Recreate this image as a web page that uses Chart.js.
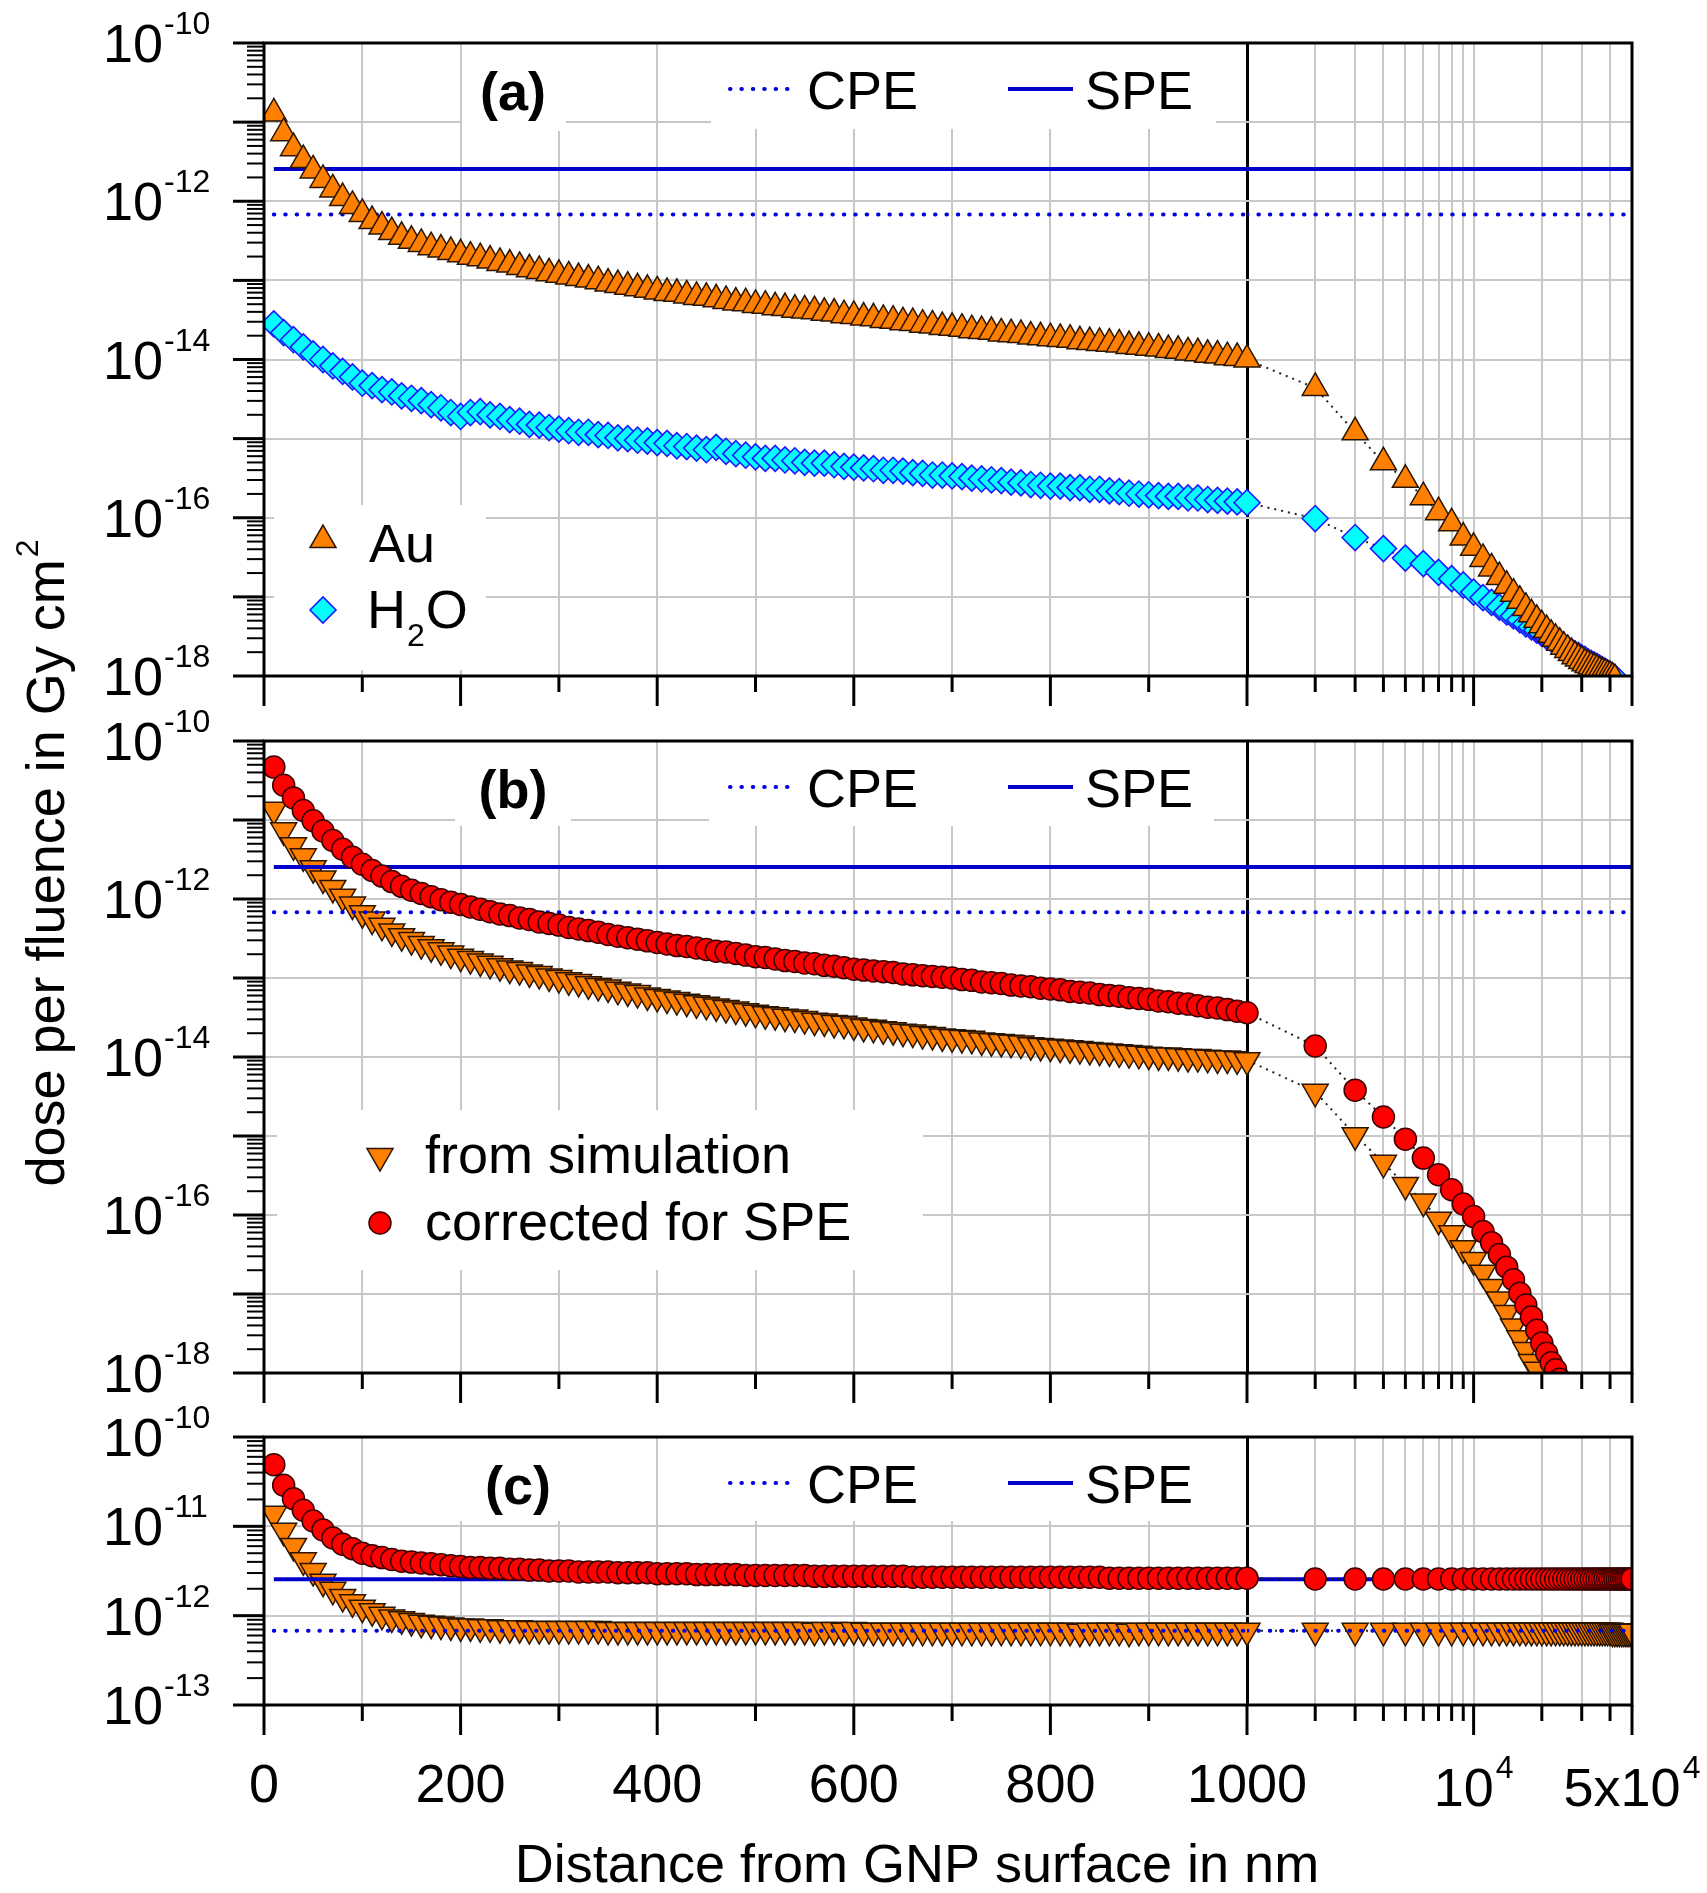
<!DOCTYPE html>
<html>
<head>
<meta charset="utf-8">
<title>Dose per fluence vs distance from GNP surface</title>
<script src="https://cdn.jsdelivr.net/npm/chart.js@4.4.1/dist/chart.umd.min.js"></script>
<style>
  html, body { margin: 0; padding: 0; background: #fff; }
  #page { position: relative; width: 1707px; height: 1893px; overflow: hidden; background: #fff; }
  canvas { position: absolute; left: 0; }
</style>
</head>
<body>
<div id="page">
  <canvas id="chartA" width="1707" height="730" style="top:0px;width:1707px;height:730px"></canvas>
  <canvas id="chartB" width="1707" height="930" style="top:500px;width:1707px;height:930px"></canvas>
  <canvas id="chartC" width="1707" height="503" style="top:1390px;width:1707px;height:503px"></canvas>
</div>
<script>
'use strict';

// distances in nm: fine sampling up to 1000 nm, then 1000 nm steps on the log part
const distNear = [10,20,30,40,50,60,70,80,90,100,110,120,130,140,150,160,170,180,190,200,
  210,220,230,240,250,260,270,280,290,300,310,320,330,340,350,360,370,380,390,400,
  410,420,430,440,450,460,470,480,490,500,510,520,530,540,550,560,570,580,590,600,
  610,620,630,640,650,660,670,680,690,700,710,720,730,740,750,760,770,780,790,800,
  810,820,830,840,850,860,870,880,890,900,910,920,930,940,950,960,970,980,990,1000];
const distFar = [1000,2000,3000,4000,5000,6000,7000,8000,9000,10000,11000,12000,13000,14000,15000,
  16000,17000,18000,19000,20000,21000,22000,23000,24000,25000,26000,27000,28000,29000,30000,
  31000,32000,33000,34000,35000,36000,37000,38000,39000,40000,41000,42000,43000,44000,45000,
  46000,47000,48000,49000,50000];

// all series: log10 of dose per fluence in Gy cm^2
// (a) Au
const aAuNear = [-10.89,-11.14,-11.33,-11.48,-11.61,-11.73,-11.85,-11.96,-12.06,-12.16,
  -12.25,-12.32,-12.39,-12.45,-12.50,-12.54,-12.58,-12.61,-12.64,-12.67,
  -12.70,-12.72,-12.75,-12.78,-12.80,-12.83,-12.86,-12.88,-12.91,-12.93,
  -12.95,-12.97,-12.99,-13.01,-13.04,-13.06,-13.08,-13.10,-13.12,-13.14,
  -13.16,-13.17,-13.19,-13.21,-13.22,-13.24,-13.26,-13.28,-13.29,-13.31,
  -13.32,-13.34,-13.35,-13.37,-13.38,-13.39,-13.41,-13.42,-13.44,-13.45,
  -13.47,-13.48,-13.50,-13.51,-13.53,-13.54,-13.56,-13.57,-13.59,-13.60,
  -13.61,-13.63,-13.64,-13.65,-13.67,-13.68,-13.69,-13.71,-13.72,-13.73,
  -13.74,-13.75,-13.77,-13.78,-13.79,-13.80,-13.81,-13.83,-13.84,-13.85,
  -13.86,-13.88,-13.89,-13.91,-13.92,-13.94,-13.95,-13.97,-13.98,-14.00];
const aAuFar = [-14.00,-14.36,-14.92,-15.30,-15.52,-15.74,-15.93,-16.07,-16.25,-16.38,
  -16.52,-16.64,-16.75,-16.86,-16.96,-17.05,-17.14,-17.22,-17.29,-17.36,
  -17.42,-17.48,-17.53,-17.58,-17.63,-17.67,-17.71,-17.75,-17.78,-17.81,
  -17.84,-17.86,-17.88,-17.90,-17.92,-17.94,-17.96,-17.97,-17.99,-18.00,
  -18.02,-18.04];
// (a) H2O
const aH2oNear = [-13.55,-13.66,-13.75,-13.84,-13.93,-14.00,-14.08,-14.15,-14.22,-14.30,
  -14.33,-14.38,-14.41,-14.46,-14.49,-14.52,-14.57,-14.61,-14.67,-14.72,
  -14.67,-14.66,-14.70,-14.72,-14.76,-14.78,-14.82,-14.83,-14.86,-14.88,
  -14.90,-14.92,-14.92,-14.95,-14.96,-14.99,-15.00,-15.02,-15.03,-15.05,
  -15.06,-15.09,-15.10,-15.12,-15.14,-15.11,-15.16,-15.19,-15.21,-15.23,
  -15.25,-15.25,-15.27,-15.28,-15.30,-15.31,-15.31,-15.33,-15.35,-15.36,
  -15.37,-15.38,-15.40,-15.40,-15.41,-15.43,-15.44,-15.46,-15.46,-15.47,
  -15.48,-15.50,-15.51,-15.52,-15.53,-15.55,-15.56,-15.58,-15.59,-15.60,
  -15.60,-15.62,-15.62,-15.64,-15.64,-15.66,-15.67,-15.69,-15.70,-15.71,
  -15.72,-15.73,-15.73,-15.75,-15.75,-15.77,-15.78,-15.79,-15.80,-15.81];
const aH2oFar = [-15.81,-16.01,-16.25,-16.39,-16.51,-16.58,-16.69,-16.77,-16.85,-16.94,
  -17.01,-17.07,-17.13,-17.19,-17.24,-17.29,-17.34,-17.38,-17.42,-17.46,
  -17.50,-17.53,-17.57,-17.60,-17.63,-17.66,-17.69,-17.72,-17.74,-17.77,
  -17.79,-17.82,-17.84,-17.86,-17.88,-17.90,-17.92,-17.94,-17.96,-17.98,
  -18.00,-18.02];
// (b) from simulation
const bSimNear = [-10.87,-11.13,-11.32,-11.46,-11.61,-11.74,-11.86,-11.97,-12.07,-12.18,
  -12.26,-12.34,-12.41,-12.47,-12.52,-12.57,-12.61,-12.65,-12.69,-12.73,
  -12.76,-12.79,-12.82,-12.85,-12.88,-12.90,-12.93,-12.95,-12.98,-13.00,
  -13.03,-13.05,-13.08,-13.10,-13.12,-13.15,-13.17,-13.19,-13.22,-13.24,
  -13.26,-13.28,-13.30,-13.32,-13.34,-13.36,-13.38,-13.40,-13.42,-13.44,
  -13.46,-13.47,-13.49,-13.50,-13.52,-13.54,-13.55,-13.57,-13.58,-13.60,
  -13.62,-13.63,-13.65,-13.66,-13.68,-13.69,-13.71,-13.72,-13.74,-13.75,
  -13.76,-13.77,-13.79,-13.80,-13.81,-13.82,-13.83,-13.85,-13.86,-13.87,
  -13.88,-13.89,-13.90,-13.91,-13.92,-13.93,-13.94,-13.95,-13.96,-13.97,
  -13.98,-13.98,-13.99,-14.00,-14.00,-14.01,-14.02,-14.02,-14.03,-14.04];
const bSimFar = [-14.04,-14.44,-14.99,-15.34,-15.62,-15.83,-16.06,-16.23,-16.42,-16.57,
  -16.73,-16.91,-17.07,-17.24,-17.41,-17.56,-17.71,-17.86,-17.96,-18.10];
// (b) corrected for SPE
const bCorNear = [-10.33,-10.56,-10.72,-10.88,-11.01,-11.14,-11.26,-11.37,-11.47,-11.56,
  -11.64,-11.71,-11.78,-11.84,-11.89,-11.93,-11.97,-12.01,-12.04,-12.07,
  -12.10,-12.13,-12.16,-12.19,-12.21,-12.24,-12.26,-12.29,-12.31,-12.33,
  -12.36,-12.38,-12.40,-12.42,-12.45,-12.47,-12.49,-12.51,-12.53,-12.55,
  -12.57,-12.59,-12.60,-12.62,-12.64,-12.66,-12.67,-12.69,-12.71,-12.73,
  -12.74,-12.76,-12.78,-12.79,-12.81,-12.82,-12.84,-12.85,-12.87,-12.89,
  -12.90,-12.91,-12.92,-12.93,-12.95,-12.96,-12.97,-12.98,-12.99,-13.00,
  -13.02,-13.03,-13.05,-13.06,-13.07,-13.09,-13.10,-13.11,-13.13,-13.14,
  -13.15,-13.17,-13.18,-13.19,-13.21,-13.22,-13.23,-13.25,-13.26,-13.27,
  -13.29,-13.30,-13.32,-13.33,-13.35,-13.37,-13.38,-13.40,-13.42,-13.44];
const bCorFar = [-13.44,-13.86,-14.42,-14.76,-15.04,-15.28,-15.49,-15.68,-15.86,-16.02,
  -16.21,-16.35,-16.50,-16.66,-16.82,-16.99,-17.14,-17.29,-17.46,-17.62,
  -17.75,-17.87,-17.96,-18.08];
// (c) from simulation
const cSimNear = [-10.86,-11.05,-11.22,-11.38,-11.50,-11.62,-11.71,-11.79,-11.85,-11.91,
  -11.95,-11.99,-12.02,-12.04,-12.06,-12.08,-12.09,-12.10,-12.11,-12.12,
  -12.12,-12.13,-12.13,-12.14,-12.14,-12.14,-12.15,-12.15,-12.15,-12.15,
  -12.15,-12.15,-12.15,-12.15,-12.16,-12.16,-12.16,-12.16,-12.16,-12.16,
  -12.16,-12.16,-12.16,-12.16,-12.16,-12.16,-12.16,-12.16,-12.16,-12.16,
  -12.16,-12.16,-12.16,-12.16,-12.16,-12.17,-12.16,-12.16,-12.17,-12.16,
  -12.17,-12.17,-12.17,-12.17,-12.17,-12.17,-12.17,-12.17,-12.17,-12.17,
  -12.17,-12.17,-12.17,-12.17,-12.17,-12.17,-12.17,-12.17,-12.17,-12.17,
  -12.17,-12.17,-12.18,-12.17,-12.17,-12.17,-12.17,-12.18,-12.17,-12.17,
  -12.17,-12.17,-12.17,-12.17,-12.17,-12.17,-12.17,-12.17,-12.17,-12.17];
const cSimFar = [-12.17,-12.17,-12.17,-12.17,-12.17,-12.17,-12.17,-12.17,-12.17,-12.17,
  -12.17,-12.17,-12.17,-12.17,-12.17,-12.17,-12.17,-12.17,-12.17,-12.17,
  -12.17,-12.17,-12.17,-12.17,-12.17,-12.17,-12.17,-12.17,-12.17,-12.17,
  -12.17,-12.17,-12.17,-12.17,-12.17,-12.17,-12.17,-12.17,-12.17,-12.17,
  -12.18,-12.18,-12.18,-12.18,-12.18,-12.18,-12.18,-12.18,-12.18,-12.18];
// (c) corrected for SPE
const cCorNear = [-10.31,-10.54,-10.69,-10.82,-10.94,-11.04,-11.13,-11.20,-11.25,-11.30,
  -11.33,-11.35,-11.37,-11.39,-11.40,-11.41,-11.42,-11.43,-11.44,-11.45,
  -11.46,-11.46,-11.47,-11.47,-11.48,-11.48,-11.49,-11.49,-11.50,-11.50,
  -11.50,-11.51,-11.51,-11.51,-11.51,-11.52,-11.52,-11.52,-11.52,-11.53,
  -11.53,-11.53,-11.53,-11.54,-11.54,-11.54,-11.54,-11.54,-11.55,-11.55,
  -11.55,-11.55,-11.55,-11.55,-11.55,-11.56,-11.56,-11.56,-11.56,-11.56,
  -11.56,-11.56,-11.56,-11.56,-11.56,-11.57,-11.57,-11.57,-11.57,-11.57,
  -11.57,-11.57,-11.57,-11.57,-11.57,-11.57,-11.57,-11.57,-11.57,-11.57,
  -11.57,-11.57,-11.57,-11.57,-11.57,-11.58,-11.58,-11.58,-11.58,-11.58,
  -11.58,-11.58,-11.58,-11.58,-11.58,-11.58,-11.58,-11.58,-11.58,-11.58];
const cCorFar = [-11.58,-11.59,-11.59,-11.59,-11.59,-11.59,-11.59,-11.59,-11.59,-11.59,
  -11.59,-11.59,-11.59,-11.59,-11.59,-11.59,-11.59,-11.59,-11.59,-11.59,
  -11.59,-11.59,-11.59,-11.59,-11.59,-11.59,-11.59,-11.59,-11.59,-11.59,
  -11.59,-11.59,-11.59,-11.59,-11.59,-11.59,-11.59,-11.59,-11.59,-11.59,
  -11.59,-11.59,-11.59,-11.59,-11.59,-11.59,-11.59,-11.59,-11.59,-11.59];

// reference levels (Gy cm^2)
const SPE_LEVEL = 2.55e-12;
const CPE_LEVEL = 6.8e-13;
const levelStart = 10;

// axis ticks / labels
const nearGrid = [0,100,200,300,400,500,600,700,800,900,1000];
const farGrid = [2000,3000,4000,5000,6000,7000,8000,9000,10000,20000,30000,40000,50000];
const xNearLabels = [0,200,400,600,800,1000];
const xFarLabels = [[10000, '10', '4'], [50000, '5x10', '4']];
const yLabelsAB = [-10,-12,-14,-16,-18];
const yLabelsC = [-10,-11,-12,-13];

const FONT = "'Liberation Sans', Arial, Helvetica, sans-serif";
const GRID = '#c8c8c8';

const AU = { pointStyle: 'triangle', pointRadius: 15, pointRotation: 0, pointBackgroundColor: '#ff8000', pointBorderColor: '#2b1500', pointBorderWidth: 1.5 };
const SIM = Object.assign({}, AU, { pointRotation: 180 });
const H2O = { pointStyle: 'rectRot', pointRadius: 13, pointRotation: 0, pointBackgroundColor: '#00ffff', pointBorderColor: '#1a1aff', pointBorderWidth: 1.6 };
const COR = { pointStyle: 'circle', pointRadius: 11, pointRotation: 0, pointBackgroundColor: '#ff0000', pointBorderColor: '#3a0000', pointBorderWidth: 1.5 };

function isDecade(v) {
  const l = Math.log10(v);
  return Math.abs(l - Math.round(l)) < 1e-6;
}

function pts(xs, logs) {
  return logs.map((v, i) => ({ x: xs[i], y: Math.pow(10, v) }));
}

function series(near, far, style, order) {
  const base = Object.assign({ showLine: true, borderColor: '#222', borderWidth: 2, borderDash: [2, 5], order: order }, style);
  return [
    Object.assign({ xAxisID: 'xlin', yAxisID: 'y', data: pts(distNear, near) }, base),
    Object.assign({ xAxisID: 'xlog', yAxisID: 'y', data: pts(distFar, far) }, base)
  ];
}

function levelLine(value, dotted, order) {
  const base = dotted
    ? { borderColor: '#0000e0', borderWidth: 4, borderDash: [0.5, 10.9], borderCapStyle: 'round' }
    : { borderColor: '#0000c8', borderWidth: 4 };
  Object.assign(base, { showLine: true, pointRadius: 0, order: order });
  return [
    Object.assign({ xAxisID: 'xlin', yAxisID: 'y', data: [{ x: levelStart, y: value }, { x: 1000, y: value }] }, base),
    Object.assign({ xAxisID: 'xlog', yAxisID: 'y', data: [{ x: 1000, y: value }, { x: 50000, y: value }] }, base)
  ];
}

function logTicks(minExp, maxExp) {
  const out = [];
  for (let e = minExp; e < maxExp; e++) {
    for (let m = 1; m < 10; m++) out.push({ value: m * Math.pow(10, e) });
  }
  out.push({ value: Math.pow(10, maxExp) });
  return out;
}

function drawMarker(ctx, st, x, y) {
  ctx.save();
  ctx.setLineDash([]);
  ctx.fillStyle = st.pointBackgroundColor;
  ctx.strokeStyle = st.pointBorderColor;
  ctx.lineWidth = st.pointBorderWidth;
  Chart.helpers.drawPoint(ctx, { pointStyle: st.pointStyle, radius: st.pointRadius, rotation: st.pointRotation, borderWidth: st.pointBorderWidth }, x, y);
  ctx.restore();
}

function drawSample(ctx, x0, x1, y, dotted) {
  ctx.save();
  ctx.beginPath();
  ctx.lineWidth = 4;
  if (dotted) {
    ctx.strokeStyle = '#0000e0';
    ctx.setLineDash([0.5, 10.9]);
    ctx.lineCap = 'round';
  } else {
    ctx.strokeStyle = '#0000c8';
  }
  ctx.moveTo(x0, y);
  ctx.lineTo(x1, y);
  ctx.stroke();
  ctx.restore();
}

function decorations(cfg) {
  return {
    id: 'deco',
    beforeDatasetsDraw(chart) {
      const ctx = chart.ctx;
      ctx.save();
      ctx.translate(0, -cfg.offset);
      ctx.fillStyle = '#fff';
      cfg.boxes.forEach(b => ctx.fillRect(b[0], b[1], b[2] - b[0], b[3] - b[1]));
      ctx.restore();
    },
    afterDraw(chart) {
      const ctx = chart.ctx;
      const area = chart.chartArea;
      const xl = chart.scales.xlin, xg = chart.scales.xlog, ys = chart.scales.y;
      ctx.save();
      ctx.strokeStyle = '#000';
      ctx.fillStyle = '#000';
      ctx.setLineDash([]);
      ctx.lineWidth = 3;
      ctx.strokeRect(area.left, area.top, area.right - area.left, area.bottom - area.top);

      // y tick marks (outside)
      ys.ticks.forEach(t => {
        const y = ys.getPixelForValue(t.value);
        const major = isDecade(t.value);
        ctx.lineWidth = major ? 3 : 2;
        ctx.beginPath();
        ctx.moveTo(area.left - (major ? 31 : 17), y);
        ctx.lineTo(area.left, y);
        ctx.stroke();
      });
      // x tick marks (outside)
      const xTick = (x, major) => {
        ctx.lineWidth = 3;
        ctx.beginPath();
        ctx.moveTo(x, area.bottom);
        ctx.lineTo(x, area.bottom + (major ? 30 : 16));
        ctx.stroke();
      };
      xl.ticks.forEach(t => xTick(xl.getPixelForValue(t.value), t.value % 200 === 0));
      xg.ticks.forEach(t => xTick(xg.getPixelForValue(t.value), isDecade(t.value) || t.value === 50000));

      // y tick labels 10^n
      cfg.yLabels.forEach(e => {
        const y = ys.getPixelForValue(Math.pow(10, e));
        ctx.font = '54px ' + FONT;
        ctx.textAlign = 'right';
        ctx.fillText('10', 163, y + 19);
        ctx.font = '32px ' + FONT;
        ctx.textAlign = 'left';
        ctx.fillText('-' + Math.abs(e), 164, y - 9);
      });

      // x tick labels (bottom panel only)
      if (cfg.xLabels) {
        const yb = area.bottom + 97;
        ctx.font = '54px ' + FONT;
        ctx.textAlign = 'center';
        xNearLabels.forEach(v => ctx.fillText(String(v), xl.getPixelForValue(v), yb));
        xFarLabels.forEach(l => {
          const x = xg.getPixelForValue(l[0]);
          ctx.font = '54px ' + FONT;
          const wb = ctx.measureText(l[1]).width;
          ctx.font = '32px ' + FONT;
          const ws = ctx.measureText(l[2]).width;
          const start = x - (wb + ws + 2) / 2;
          ctx.textAlign = 'left';
          ctx.font = '54px ' + FONT;
          ctx.fillText(l[1], start, yb + 4);
          ctx.font = '32px ' + FONT;
          ctx.fillText(l[2], start + wb + 2, yb - 24);
        });
      }

      // page-coordinate decorations
      ctx.translate(0, -cfg.offset);
      const T = cfg.panelTop;
      ctx.font = 'bold 54px ' + FONT;
      ctx.textAlign = 'center';
      ctx.fillText(cfg.letter, cfg.letterX, T + 67);
      drawSample(ctx, 730, 790, T + 46, true);
      drawSample(ctx, 1008, 1073, T + 46, false);
      ctx.font = '54px ' + FONT;
      ctx.textAlign = 'left';
      ctx.fillText('CPE', 807, T + 66);
      ctx.fillText('SPE', 1085, T + 66);

      cfg.items.forEach(it => {
        drawMarker(ctx, it.style, it.mx, it.my);
        ctx.font = '54px ' + FONT;
        ctx.textAlign = 'left';
        ctx.fillStyle = '#000';
        ctx.fillText(it.text, it.tx, it.ty);
        if (it.sub) {
          let x = it.tx + ctx.measureText(it.text).width + 1;
          ctx.font = '32px ' + FONT;
          ctx.fillText(it.sub, x, it.ty + 18);
          x += ctx.measureText(it.sub).width + 1;
          ctx.font = '54px ' + FONT;
          ctx.fillText(it.after, x, it.ty);
        }
      });

      if (cfg.yTitle) {
        ctx.save();
        ctx.translate(64, 863);
        ctx.rotate(-Math.PI / 2);
        ctx.font = '54px ' + FONT;
        const main = 'dose per fluence in Gy cm';
        const wm = ctx.measureText(main).width;
        ctx.font = '32px ' + FONT;
        const wsup = ctx.measureText('2').width;
        const start = -(wm + wsup + 2) / 2;
        ctx.textAlign = 'left';
        ctx.font = '54px ' + FONT;
        ctx.fillText(main, start, 0);
        ctx.font = '32px ' + FONT;
        ctx.fillText('2', start + wm + 2, -26);
        ctx.restore();
      }
      if (cfg.xTitle) {
        ctx.font = '54px ' + FONT;
        ctx.textAlign = 'center';
        ctx.fillText('Distance from GNP surface in nm', 917, 1882);
      }
      ctx.restore();
    }
  };
}

function makePanel(id, yMinExp, yMaxExp, datasets, padding, deco) {
  return new Chart(document.getElementById(id), {
    type: 'scatter',
    data: { datasets: datasets },
    options: {
      responsive: false,
      animation: false,
      devicePixelRatio: 1,
      events: [],
      layout: { padding: padding },
      plugins: { legend: { display: false }, tooltip: { enabled: false } },
      scales: {
        xlin: {
          type: 'linear', axis: 'x', position: 'bottom', stack: 'dist', stackWeight: 983,
          min: 0, max: 1000,
          afterBuildTicks: ax => { ax.ticks = nearGrid.map(v => ({ value: v })); },
          ticks: { display: false },
          border: { display: false },
          grid: {
            drawTicks: false,
            color: c => (c.tick && c.tick.value === 1000) ? '#000' : ((c.tick && c.tick.value === 0) ? 'rgba(0,0,0,0)' : GRID),
            lineWidth: c => (c.tick && c.tick.value === 1000) ? 3 : 2
          }
        },
        xlog: {
          type: 'logarithmic', axis: 'x', position: 'bottom', stack: 'dist', stackWeight: 385,
          min: 1000, max: 50000,
          afterBuildTicks: ax => { ax.ticks = farGrid.map(v => ({ value: v })); },
          ticks: { display: false },
          border: { display: false },
          grid: { drawTicks: false, color: GRID, lineWidth: 2 }
        },
        y: {
          type: 'logarithmic', axis: 'y', position: 'left',
          min: Math.pow(10, yMinExp), max: Math.pow(10, yMaxExp),
          afterBuildTicks: ax => { ax.ticks = logTicks(yMinExp, yMaxExp); },
          ticks: { display: false },
          border: { display: false },
          grid: {
            drawTicks: false,
            color: c => (c.tick && isDecade(c.tick.value)) ? GRID : 'rgba(0,0,0,0)',
            lineWidth: 2
          }
        }
      }
    },
    plugins: [deco]
  });
}

// panel (a)
makePanel('chartA', -18, -10,
  [].concat(
    series(aAuNear, aAuFar, AU, 1),
    series(aH2oNear, aH2oFar, H2O, 2),
    levelLine(SPE_LEVEL, false, 10),
    levelLine(CPE_LEVEL, true, 11)
  ),
  { left: 264, right: 75, top: 43, bottom: 54 },
  decorations({
    offset: 0, panelTop: 43, letter: '(a)', letterX: 513, yLabels: yLabelsAB,
    boxes: [[462, 43, 566, 131], [711, 43, 1216, 129], [274, 505, 486, 670]],
    items: [
      { style: AU, mx: 323, my: 540, text: 'Au', tx: 369, ty: 562 },
      { style: H2O, mx: 323, my: 610, text: 'H', sub: '2', after: 'O', tx: 367, ty: 628 }
    ]
  })
);

// panel (b)
makePanel('chartB', -18, -10,
  [].concat(
    series(bCorNear, bCorFar, COR, 1),
    levelLine(SPE_LEVEL, false, 10),
    levelLine(CPE_LEVEL, true, 11),
    series(bSimNear, bSimFar, SIM, 20)
  ),
  { left: 264, right: 75, top: 241, bottom: 57 },
  decorations({
    offset: 500, panelTop: 741, letter: '(b)', letterX: 513, yLabels: yLabelsAB, yTitle: true,
    boxes: [[455, 741, 571, 826], [709, 741, 1214, 826], [277, 1110, 923, 1270]],
    items: [
      { style: SIM, mx: 380, my: 1156, text: 'from simulation', tx: 425, ty: 1173 },
      { style: COR, mx: 380, my: 1223, text: 'corrected for SPE', tx: 425, ty: 1240 }
    ]
  })
);

// panel (c)
makePanel('chartC', -13, -10,
  [].concat(
    series(cCorNear, cCorFar, COR, 1),
    levelLine(SPE_LEVEL, false, 10),
    levelLine(CPE_LEVEL, true, 11),
    series(cSimNear, cSimFar, SIM, 20)
  ),
  { left: 264, right: 75, top: 47, bottom: 188 },
  decorations({
    offset: 1390, panelTop: 1437, letter: '(c)', letterX: 518, yLabels: yLabelsC, xLabels: true, xTitle: true,
    boxes: [[455, 1437, 571, 1521], [709, 1437, 1214, 1521]],
    items: []
  })
);
</script>
</body>
</html>
